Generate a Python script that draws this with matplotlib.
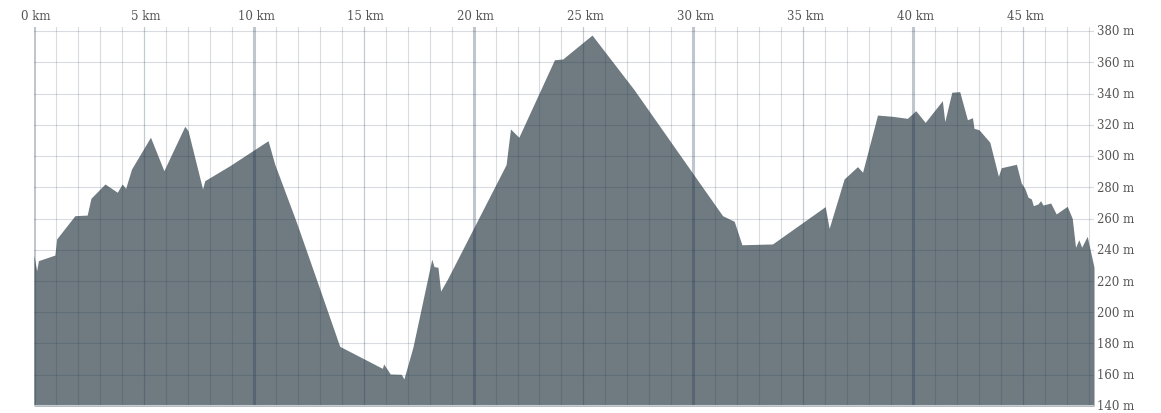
import numpy as np
import matplotlib.pyplot as plt
from matplotlib.transforms import blended_transform_factory

# профиль высот: дистанция (км) и высота (м)
dist_km = [0.0, 0.12, 0.2, 0.95, 1.03, 1.86, 2.42, 2.59, 3.23, 3.79, 4.01, 4.17,
           4.44, 5.30, 5.91, 6.86, 7.01, 7.67, 7.77, 8.91, 10.65, 10.95, 11.94,
           13.0, 13.91, 15.85, 15.91, 16.21, 16.71, 16.83, 17.24, 18.1, 18.2,
           18.38, 18.5, 18.83, 21.48, 21.68, 22.06, 23.68, 24.06, 25.39, 27.3,
           30.05, 31.33, 31.86, 32.21, 33.6, 36.0, 36.18, 36.86, 37.47,
           37.7, 38.38, 39.06, 39.74, 40.12, 40.55, 41.33, 41.44, 41.76, 42.12,
           42.47, 42.7, 42.77, 43.0, 43.49, 43.88, 44.01, 44.7, 44.92, 45.08,
           45.23, 45.38, 45.47, 45.68, 45.8, 45.91, 46.26, 46.51, 47.01, 47.24,
           47.39, 47.54, 47.67, 47.92, 48.23]
elev_m = [236.5, 226.6, 233, 236.6, 246.9, 261.8, 262.2, 272.9, 282.1, 276.8,
          282.1, 279.3, 291.7, 312, 290.6, 319, 316.2, 278.9, 284.2, 293.8,
          309.8, 294.9, 257.6, 215, 178.2, 164.1, 166.9, 160.5, 160.3, 157.3,
          177.6, 234, 229.2, 228.8, 213.5, 221.7, 294.5, 317.3, 312, 361.6,
          362.1, 377.4, 342.5, 287.4, 261.8, 258.2, 243.2, 243.7, 267.6,
          253.7, 285.3, 293.2, 289.6, 326.2, 325.4, 324.1, 329, 321.5, 335.4,
          322, 340.8, 341.2, 323.2, 324.5, 317.7, 316.8, 308.8, 287, 292.5,
          294.7, 282.7, 279.3, 273.6, 272.5, 268.2, 269.3, 271.4, 268.6, 269.9,
          262.9, 267.8, 260.1, 241.6, 246.4, 241.6, 248.6, 228.8]

x_labels = [0, 5, 10, 15, 20, 25, 30, 35, 40, 45]
y_labels = [140, 160, 180, 200, 220, 240, 260, 280, 300, 320, 340, 360, 380]

W, H = 1161, 414
fig = plt.figure(figsize=(W / 100, H / 100), dpi=100)
ax = fig.add_axes([34 / W, (H - 407) / H, (1094 - 34) / W, (407 - 28) / H])

x_max = dist_km[-1]
ax.set_xlim(0, x_max)
ax.set_ylim(140, 380 + 4 * 0.64)

ax.fill_between(dist_km, 140, elev_m, color='#6f7a81', lw=0, zorder=1)

# сетка поверх заливки, полупрозрачная
grid_c = (0.1, 0.2, 0.3)
for y in y_labels:
    ax.axhline(y, color=grid_c, alpha=0.17, lw=0.8, zorder=2)
for k in range(0, 49):
    if k % 10 == 0:
        ax.axvline(k, color=grid_c, alpha=0.28, lw=2.2, zorder=2)
    elif k % 5 == 0:
        ax.axvline(k, color=grid_c, alpha=0.26, lw=0.9, zorder=2)
    else:
        ax.axvline(k, color=grid_c, alpha=0.17, lw=0.8, zorder=2)
ax.axvline(x_max, color=grid_c, alpha=0.17, lw=0.8, zorder=2)
ax.axhline(140, color='#c3cbd3', lw=1.5, zorder=3)

for s in ax.spines.values():
    s.set_visible(False)
ax.set_xticks([])
ax.set_yticks([])

tr_top = blended_transform_factory(ax.transData, fig.transFigure)
for k in x_labels:
    ax.text(k + 0.1, 1 - 16 / H, f'{k} km', transform=tr_top, ha='center',
            va='center', fontsize=8.5, family='DejaVu Serif', color='#555555')

tr_right = blended_transform_factory(fig.transFigure, ax.transData)
for y in y_labels:
    ax.text(1097 / W, y, f'{y} m', transform=tr_right, ha='left', va='center',
            fontsize=8.5, family='DejaVu Serif', color='#555555')

fig.savefig('out.png', dpi=100)
